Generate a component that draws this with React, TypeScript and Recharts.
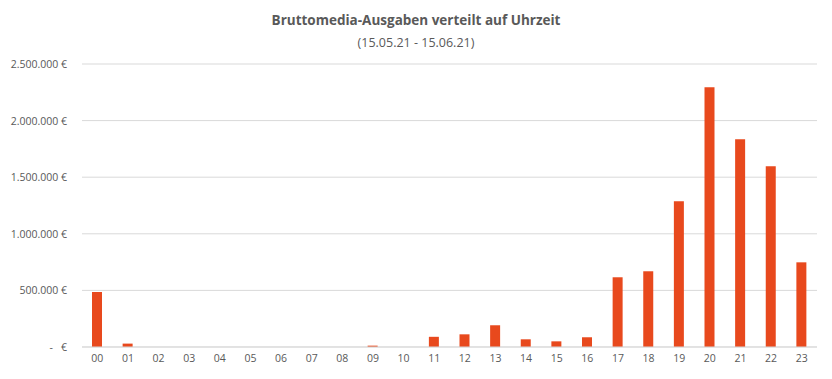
import React from "react";
import { BarChart, Bar, XAxis, YAxis, CartesianGrid } from "recharts";

const hours = ["00","01","02","03","04","05","06","07","08","09","10","11","12","13","14","15","16","17","18","19","20","21","22","23"];
const spend = [486000, 30000, 0, 0, 0, 0, 0, 0, 0, 12000, 0, 90000, 112000, 192000, 68000, 50000, 86000, 616000, 669000, 1287000, 2294000, 1835000, 1596000, 748000];
const yTicks = [0, 500000, 1000000, 1500000, 2000000, 2500000];

const data = hours.map((h, i) => ({ hour: h, value: spend[i] }));

const FONT = "'Open Sans', sans-serif";
const TEXT = "#595959";

const fmt = (v: number) => v.toString().replace(/\B(?=(\d{3})+(?!\d))/g, ".");

const YTick = (props: any) => {
  const { x, y, payload } = props;
  const v = payload.value as number;
  if (v === 0) {
    return (
      <g>
        <text x={x - 14} y={y} dy={4} textAnchor="end" fontFamily={FONT} fontSize={10.5} fill={TEXT}>-</text>
        <text x={x} y={y} dy={4} textAnchor="end" fontFamily={FONT} fontSize={10.5} fill={TEXT}>€</text>
      </g>
    );
  }
  return (
    <text x={x} y={y} dy={4} textAnchor="end" fontFamily={FONT} fontSize={10.5} fill={TEXT}>
      {fmt(v) + " €"}
    </text>
  );
};

export default function App() {
  return (
    <div style={{ position: "absolute", left: 0, top: 0, width: 832, height: 379, background: "#fff" }}>
      <svg width={832} height={379} style={{ position: "absolute", left: 0, top: 0 }}>
        <text x={416} y={25} textAnchor="middle" fontFamily={FONT} fontSize={13.5} fontWeight="bold" fill={TEXT}>
          Bruttomedia-Ausgaben verteilt auf Uhrzeit
        </text>
        <text x={416} y={47} textAnchor="middle" fontFamily={FONT} fontSize={12.5} fill={TEXT}>
          (15.05.21 - 15.06.21)
        </text>
      </svg>
      <div style={{ position: "absolute", left: 0, top: 0 }}>
        <BarChart width={832} height={379} data={data} margin={{ top: 64, right: 15, bottom: 2, left: 0 }}>
          <CartesianGrid vertical={false} stroke="#d9d9d9" />
          <XAxis
            dataKey="hour"
            height={30}
            axisLine={{ stroke: "#d9d9d9" }}
            tickLine={false}
            tickMargin={2}
            tick={{ fontFamily: FONT, fontSize: 10.5, fill: TEXT }}
            interval={0}
          />
          <YAxis
            width={82}
            domain={[0, 2500000]}
            ticks={yTicks}
            axisLine={false}
            tickLine={false}
            tickSize={0}
            tickMargin={15}
            tick={<YTick />}
            interval={0}
          />
          <Bar dataKey="value" fill="#E8491D" barSize={10} isAnimationActive={false} />
        </BarChart>
      </div>
    </div>
  );
}
